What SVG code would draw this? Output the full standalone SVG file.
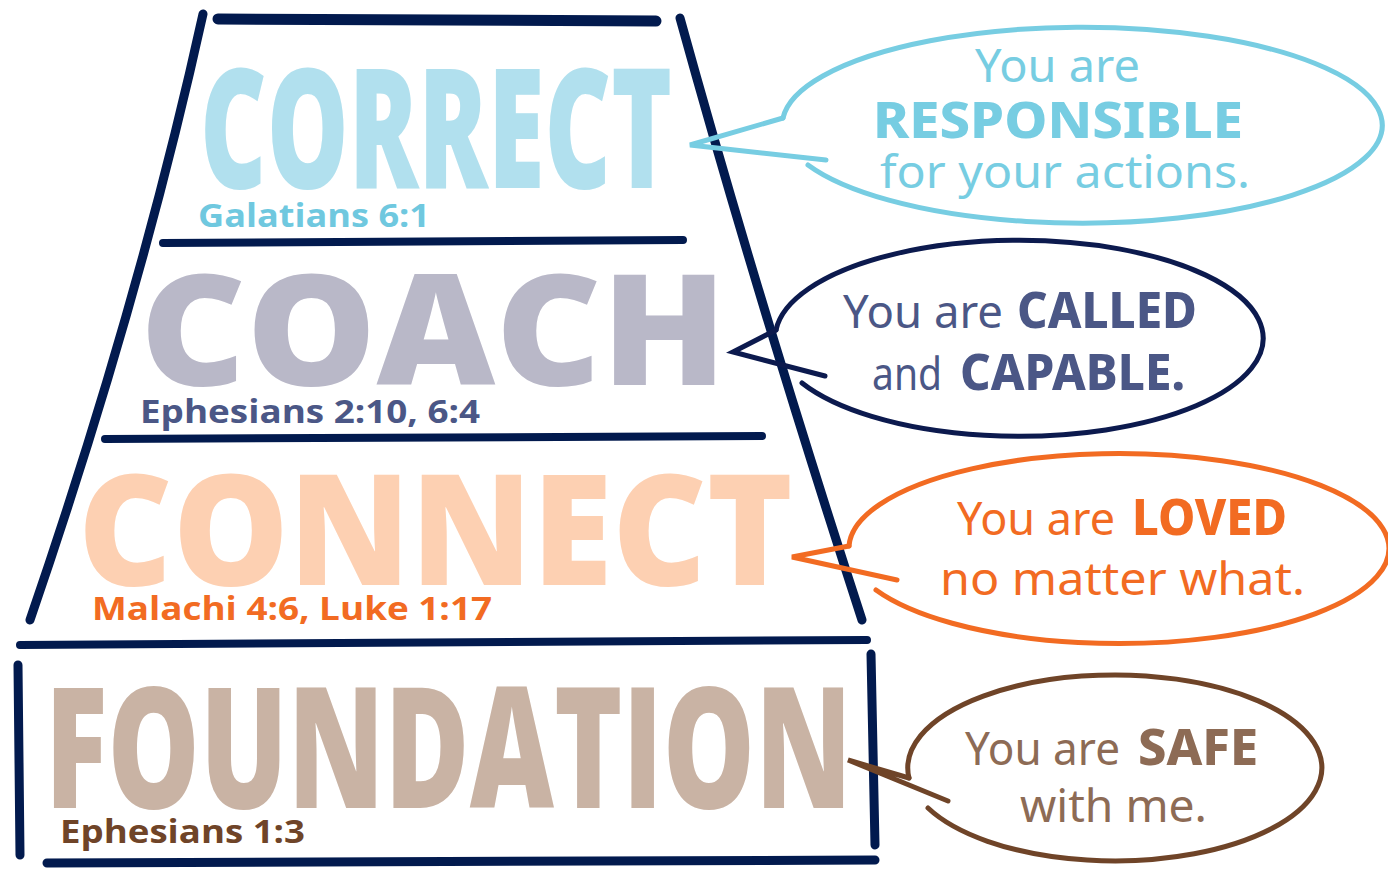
<svg xmlns="http://www.w3.org/2000/svg" width="1388" height="887" viewBox="0 0 1388 887">
<style>
.frame{fill:none;stroke:#021a4e;stroke-linecap:round;stroke-linejoin:round}
.big{font-family:"Open Sans","Liberation Sans",Arial,sans-serif;font-weight:800}
.ref{font-family:"Open Sans","Liberation Sans",sans-serif;font-weight:700;font-size:32px}
.bub{fill:none;stroke-width:5;stroke-linecap:round;stroke-linejoin:miter}
.hw{font-family:"Noto Sans","DejaVu Sans",sans-serif;font-size:46px;font-weight:400}
.hwb{font-family:"Noto Sans","DejaVu Sans",sans-serif;font-size:50px;font-weight:800}
</style>
<rect width="1388" height="887" fill="#ffffff"/>
<g id="frame">
<path class="frame" stroke-width="11" d="M218 19 L656 21"/>
<path class="frame" stroke-width="9" d="M203 14 Q140 300 30 620"/>
<path class="frame" stroke-width="9" d="M680 18 Q758 300 862 620"/>
<path class="frame" stroke-width="8" d="M163 243 L683 240"/>
<path class="frame" stroke-width="8" d="M105 439 L762 436"/>
<path class="frame" stroke-width="8" d="M20 645 L867 640"/>
<path class="frame" stroke-width="9" d="M18 665 L20 855"/>
<path class="frame" stroke-width="9" d="M871 654 L875 845"/>
<path class="frame" stroke-width="9" d="M47 863 L875 860"/>
</g>
<g id="tier-correct">
<text class="big" x="200" y="188" font-size="166" fill="#b1e0ee" textLength="472" lengthAdjust="spacingAndGlyphs">CORRECT</text>
<text class="ref" x="198" y="227" fill="#6fc8df" textLength="232" lengthAdjust="spacingAndGlyphs">Galatians 6:1</text>
</g>
<g id="tier-coach">
<text class="big" x="140" y="385" font-size="155" fill="#b9b8c8" textLength="587" lengthAdjust="spacingAndGlyphs">COACH</text>
<text class="ref" x="140" y="423" fill="#4b5786" textLength="340" lengthAdjust="spacingAndGlyphs">Ephesians 2:10, 6:4</text>
</g>
<g id="tier-connect">
<text class="big" x="78" y="585" font-size="155" fill="#fdd0b2" textLength="715" lengthAdjust="spacingAndGlyphs">CONNECT</text>
<text class="ref" x="92" y="620" fill="#f26b22" textLength="400" lengthAdjust="spacingAndGlyphs">Malachi 4:6, Luke 1:17</text>
</g>
<g id="tier-foundation">
<text class="big" x="45" y="808" font-size="168" fill="#c9b3a4" textLength="807" lengthAdjust="spacingAndGlyphs">FOUNDATION</text>
<text class="ref" x="60" y="843" fill="#6f4428" textLength="245" lengthAdjust="spacingAndGlyphs">Ephesians 1:3</text>
</g>
<g id="bubble-responsible">
<path class="bub" stroke="#77cde2" d="M808 165 A300 98 0 1 0 783 118"/>
<text class="hw" x="975" y="82" fill="#77cde2" textLength="165" lengthAdjust="spacingAndGlyphs">You are</text>
<text class="hwb" x="873" y="138" fill="#77cde2" textLength="370" lengthAdjust="spacingAndGlyphs">RESPONSIBLE</text>
<text class="hw" x="880" y="188" fill="#77cde2" textLength="370" lengthAdjust="spacingAndGlyphs">for your actions.</text>
</g>
<g id="bubble-called">
<path class="bub" stroke="#0c1a4e" d="M802 383 A244 98 0 1 0 776 330"/>
<text class="hw" x="843" y="328" fill="#4b5786" textLength="160" lengthAdjust="spacingAndGlyphs">You are</text>
<text class="hwb" x="1017" y="328" fill="#4b5786" textLength="180" lengthAdjust="spacingAndGlyphs">CALLED</text>
<text class="hw" x="872" y="390" fill="#4b5786" textLength="70" lengthAdjust="spacingAndGlyphs">and</text>
<text class="hwb" x="960" y="390" fill="#4b5786" textLength="225" lengthAdjust="spacingAndGlyphs">CAPABLE.</text>
</g>
<g id="bubble-loved">
<path class="bub" stroke="#f26b22" d="M876 590 A270 95 0 1 0 849 546"/>
<text class="hw" x="957" y="535" fill="#f26b22" textLength="158" lengthAdjust="spacingAndGlyphs">You are</text>
<text class="hwb" x="1132" y="535" fill="#f26b22" textLength="155" lengthAdjust="spacingAndGlyphs">LOVED</text>
<text class="hw" x="940" y="595" fill="#f26b22" textLength="365" lengthAdjust="spacingAndGlyphs">no matter what.</text>
</g>
<g id="bubble-safe">
<path class="bub" stroke="#6f4428" d="M928 808 A207 93 0 1 0 909 778"/>
<text class="hw" x="965" y="765" fill="#8d6b55" textLength="155" lengthAdjust="spacingAndGlyphs">You are</text>
<text class="hwb" x="1138" y="765" fill="#8d6b55" textLength="120" lengthAdjust="spacingAndGlyphs">SAFE</text>
<text class="hw" x="1020" y="822" fill="#8d6b55" textLength="187" lengthAdjust="spacingAndGlyphs">with me.</text>
</g>
<g id="connectors">
<path class="bub" stroke="#77cde2" d="M783 118 L690 145 L826 160"/>
<path class="bub" stroke="#0c1a4e" d="M776 330 L733 352 L825 376"/>
<path class="bub" stroke="#f26b22" d="M849 546 L792 557 L897 580"/>
<path class="bub" stroke="#6f4428" d="M909 778 L848 760 L948 801"/>
</g>
</svg>
